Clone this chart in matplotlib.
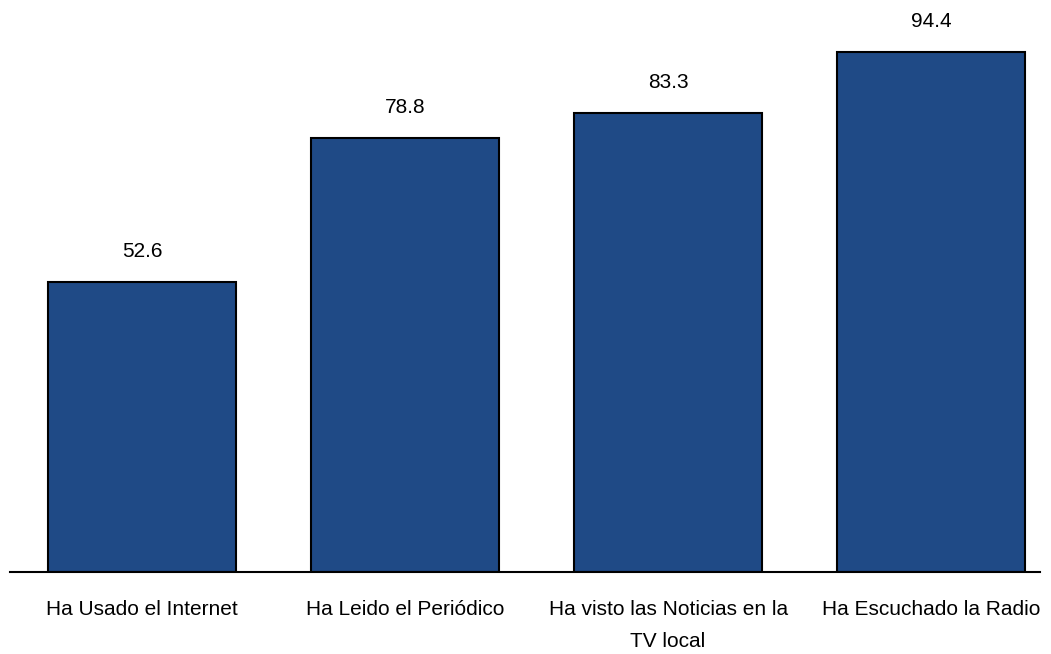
import matplotlib.pyplot as plt

categories = ['Ha Usado el Internet', 'Ha Leido el Periódico',
              'Ha visto las Noticias en la\nTV local', 'Ha Escuchado la Radio']
values = [52.6, 78.8, 83.3, 94.4]

plt.rcParams['font.family'] = ['Liberation Sans', 'DejaVu Sans']

fig = plt.figure(figsize=(10.51, 6.54), dpi=100)
ax = fig.add_axes([10 / 1051, 82 / 654, 1030 / 1051, 572 / 654])

x = range(len(categories))
bars = ax.bar(x, values, width=0.715, color='#1F4A86', edgecolor='black', linewidth=1.5, zorder=2)

for b, v in zip(bars, values):
    ax.annotate(f'{v:.1f}', xy=(b.get_x() + b.get_width() / 2, v), xytext=(0, 15),
                textcoords='offset points', ha='center', va='bottom', fontsize=15)

ax.set_xlim(-0.502, 3.414)
ax.set_ylim(0, 103.85)
ax.set_xticks(list(x))
ax.set_xticklabels(categories, fontsize=15, linespacing=1.85)
ax.tick_params(axis='x', length=0, pad=20.5)
ax.set_yticks([])
for s in ['top', 'right', 'left']:
    ax.spines[s].set_visible(False)
ax.spines['bottom'].set_linewidth(1.5)

fig.savefig('out.png', dpi=100)
